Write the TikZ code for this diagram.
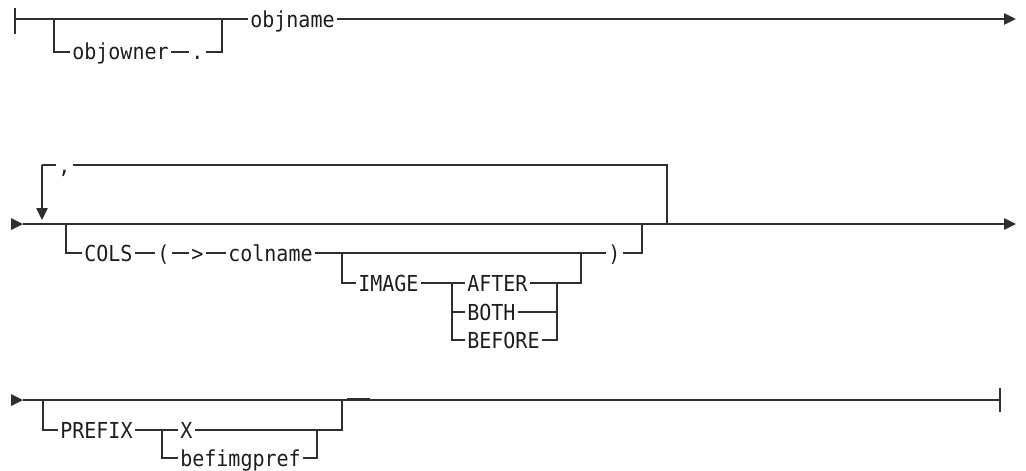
\documentclass[tikz,border=0pt]{standalone}
\usepackage{fontspec}
\newfontfamily\rrfont[FakeStretch=0.91]{DejaVu Sans Mono}
\usetikzlibrary{arrows.meta}
\definecolor{linec}{HTML}{2E2E2E}
\definecolor{textc}{HTML}{1E1E1E}
\tikzset{
  x=0.75pt, y=-0.75pt,
  rr/.style={line width=1.1pt, draw=linec},
  tail/.style={rr, -{Triangle[length=9pt,width=8.5pt]}},
  lbl/.style={font=\rrfont\fontsize{16.5pt}{19pt}\selectfont, text=textc,
              anchor=west, inner xsep=1.5pt, inner ysep=0pt,
              text height=12pt, text depth=0pt},
  tick/.style={line width=1.8pt, draw=linec},
}
\begin{document}
\begin{tikzpicture}
\useasboundingbox (0,0) rectangle (1026,471);

% ---------------- Row 1 ----------------
\coordinate (r1s) at (15,19);
\coordinate (r1e) at (1016,19);
\coordinate (b1a) at (54,19);
\coordinate (b1d) at (222,19);
\node[lbl] (objowner) at (70,52) {objowner};
\node[lbl] (dot) at (189,52) {.};
\node[lbl] (objname) at (248,19) {objname};

\draw[rr] (r1s) ++(0,-11) -- ++(0,26);
\draw[rr] (r1s) -- (objname.west);
\draw[tick] (24,19) -- (32,19);
\draw[tail] (objname.east) -- (r1e);
\draw[rr] (b1a) |- (objowner.west);
\draw[rr] (objowner.east) -- (dot.west);
\draw[rr] (dot.east) -| (b1d);

% ---------------- Row 2 ----------------
\coordinate (r2s) at (23,224);
\coordinate (r2e) at (1016,224);
\fill[linec] (11,218) -- (r2s) -- (11,230) -- cycle;
\draw[tail] (r2s) -- (r2e);

% repetition loop
\coordinate (l0) at (42,220);
\coordinate (l1) at (42,165);
\coordinate (l2) at (667,165);
\coordinate (l3) at (667,224);
\node[lbl] (comma) at (56,165) {,};
\draw[tail] (l1) -- (l0);
\draw[rr] (l1) -- (comma.west);
\draw[rr] (comma.east) -- (l2) -- (l3);

% COLS branch
\coordinate (c0) at (66,224);
\coordinate (c2) at (642,224);
\node[lbl] (COLS) at (82,253) {COLS};
\node[lbl] (lp) at (155,253) {(};
\node[lbl] (gt) at (189,253) {>};
\node[lbl] (colname) at (226,253) {colname};
\node[lbl] (rp) at (606,253) {)};
\draw[rr] (c0) |- (COLS.west);
\draw[rr] (COLS.east) -- (lp.west);
\draw[rr] (lp.east) -- (gt.west);
\draw[rr] (gt.east) -- (colname.west);
\draw[rr] (colname.east) -- (rp.west);
\draw[rr] (rp.east) -| (c2);

% IMAGE branch
\coordinate (i0) at (342,253);
\coordinate (i1) at (581,253);
\coordinate (j0) at (452,283);
\coordinate (k0) at (557,283);
\node[lbl] (IMAGE) at (356,283) {IMAGE};
\node[lbl] (AFTER) at (465,283) {AFTER};
\node[lbl] (BOTH) at (465,312) {BOTH};
\node[lbl] (BEFORE) at (465,340) {BEFORE};
\draw[rr] (i0) |- (IMAGE.west);
\draw[rr] (IMAGE.east) -- (AFTER.west);
\draw[rr] (AFTER.east) -| (i1);
\draw[rr] (j0) |- (BOTH.west);
\draw[rr] (j0) |- (BEFORE.west);
\draw[rr] (BOTH.east) -| (k0);
\draw[rr] (BEFORE.east) -| (k0);

% ---------------- Row 3 ----------------
\coordinate (r3s) at (23,400);
\coordinate (r3e) at (1000,400);
\fill[linec] (11,394) -- (r3s) -- (11,406) -- cycle;
\draw[rr] (r3s) -- (r3e);
\draw[rr] (r3e) ++(0,-12) -- ++(0,24);
\draw[tick] (347,399) -- (370,399);

\coordinate (p0) at (43,400);
\coordinate (q0) at (162,430);
\coordinate (q1) at (342,400);
\coordinate (q2) at (317,430);
\node[lbl] (PREFIX) at (58,430) {PREFIX};
\node[lbl] (X) at (178,430) {X};
\node[lbl] (befimgpref) at (178,458) {befimgpref};
\draw[rr] (p0) |- (PREFIX.west);
\draw[rr] (PREFIX.east) -- (X.west);
\draw[rr] (X.east) -| (q1);
\draw[rr] (q0) |- (befimgpref.west);
\draw[rr] (befimgpref.east) -| (q2);
\end{tikzpicture}
\end{document}
